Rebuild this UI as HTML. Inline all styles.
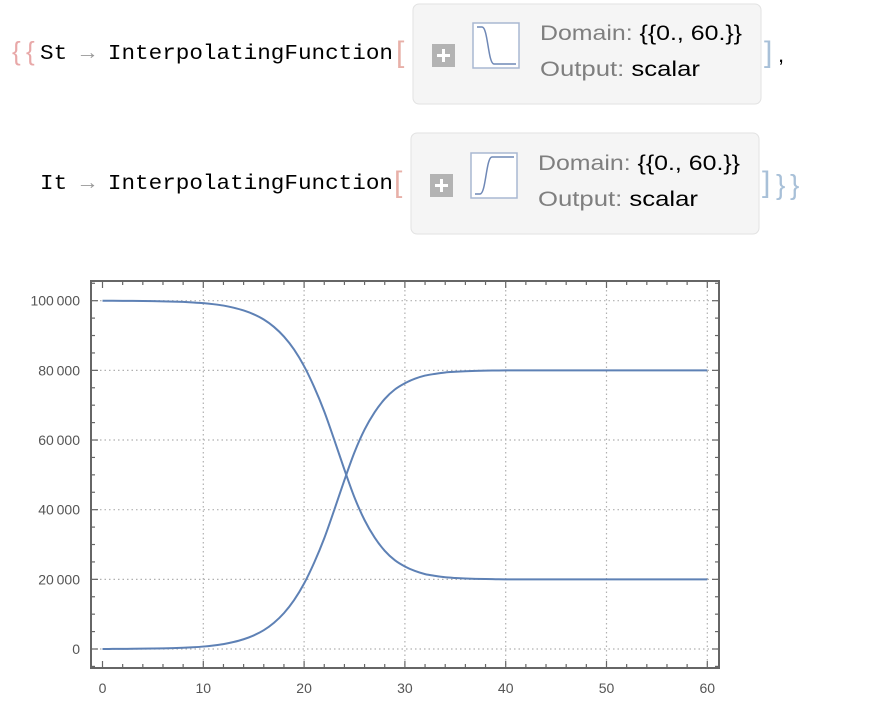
<!DOCTYPE html>
<html><head><meta charset="utf-8"><style>
html,body{margin:0;padding:0;background:#fff;}
svg{display:block;}
</style></head><body>
<svg id="root" width="893" height="706" viewBox="0 0 893 706" xmlns="http://www.w3.org/2000/svg">
 <g font-family="Liberation Mono, monospace" font-size="21" fill="#000">
  <text x="12" y="60" fill="#e8a8a8" font-family="Liberation Sans, sans-serif" font-size="26">{</text>
  <text x="26" y="60" fill="#e8a8a8" font-family="Liberation Sans, sans-serif" font-size="26">{</text>
  <text x="40" y="59" textLength="353" lengthAdjust="spacingAndGlyphs">St <tspan fill="#999">→</tspan> InterpolatingFunction</text>
  <text x="396" y="62" fill="#e8b0a8" font-family="Liberation Sans, sans-serif" font-size="30" font-weight="100">[</text>
  <rect x="413" y="4" width="348" height="100" rx="6" fill="#f5f5f5" stroke="#e2e2e2"/>
  <rect x="432" y="44" width="23" height="23" fill="#b3b3b3"/>
  <path d="M437 55.5h13M443.5 49v13" stroke="#fff" stroke-width="3"/>
  <rect x="473" y="23" width="46" height="45" fill="#fff" stroke="#a9b8d2" stroke-width="1.5"/>
  <path d="M477 27h5c6 0 6 37 12 37h22" fill="none" stroke="#6f88b6" stroke-width="1.5"/>
  <text x="540" y="40" font-family="Liberation Sans, sans-serif" font-size="21" fill="#7f7f7f" textLength="202" lengthAdjust="spacingAndGlyphs">Domain: <tspan fill="#000">{{0., 60.}}</tspan></text>
  <text x="540" y="76" font-family="Liberation Sans, sans-serif" font-size="21" fill="#7f7f7f" textLength="160" lengthAdjust="spacingAndGlyphs">Output: <tspan fill="#000">scalar</tspan></text>
  <text x="764" y="62" fill="#a8c0d8" font-family="Liberation Sans, sans-serif" font-size="30">]</text>
  <text x="778" y="62" font-family="Liberation Sans, sans-serif" font-size="22">,</text>
 </g>
 <g font-family="Liberation Mono, monospace" font-size="21" fill="#000">
  <text x="40" y="189" textLength="353" lengthAdjust="spacingAndGlyphs">It <tspan fill="#999">→</tspan> InterpolatingFunction</text>
  <text x="394" y="192" fill="#e8b0a8" font-family="Liberation Sans, sans-serif" font-size="30">[</text>
  <rect x="411" y="133" width="348" height="101" rx="6" fill="#f5f5f5" stroke="#e2e2e2"/>
  <rect x="430" y="174" width="23" height="23" fill="#b3b3b3"/>
  <path d="M435 185.5h13M441.5 179v13" stroke="#fff" stroke-width="3"/>
  <rect x="471" y="153" width="46" height="45" fill="#fff" stroke="#a9b8d2" stroke-width="1.5"/>
  <path d="M475 194h5c6 0 6 -37 12 -37h22" fill="none" stroke="#6f88b6" stroke-width="1.5"/>
  <text x="538" y="170" font-family="Liberation Sans, sans-serif" font-size="21" fill="#7f7f7f" textLength="202" lengthAdjust="spacingAndGlyphs">Domain: <tspan fill="#000">{{0., 60.}}</tspan></text>
  <text x="538" y="206" font-family="Liberation Sans, sans-serif" font-size="21" fill="#7f7f7f" textLength="160" lengthAdjust="spacingAndGlyphs">Output: <tspan fill="#000">scalar</tspan></text>
  <text x="762" y="192" fill="#a8c0d8" font-family="Liberation Sans, sans-serif" font-size="30">]</text>
  <text x="776" y="194" fill="#a8c0d8" font-family="Liberation Sans, sans-serif" font-size="28">}</text>
  <text x="790" y="194" fill="#a8c0d8" font-family="Liberation Sans, sans-serif" font-size="28">}</text>
 </g>
 <g id="chart"></g>
</svg>
<script>
const times = [0,1,2,3,4,5,6,7,8,9,10,11,12,13,14,15,16,17,18,19,20,21,22,23,24,25,26,27,28,29,30,31,32,33,34,35,36,37,38,39,40,42,44,46,48,50,52,54,56,58,60];
const itValues = [0,20,40,60,90,130,180,250,350,500,700,1000,1400,2000,2800,3900,5400,7500,10300,14000,18800,24800,31800,40000,48500,56500,63000,68000,71800,74500,76300,77600,78500,79000,79400,79600,79750,79850,79920,79960,80000,80000,80000,80000,80000,80000,80000,80000,80000,80000,80000];
const stValues = [100000,99980,99960,99940,99910,99870,99820,99750,99650,99500,99300,99000,98600,98000,97200,96100,94600,92500,89700,86000,81200,75200,68200,60000,51500,43500,37000,32000,28200,25500,23700,22400,21500,21000,20600,20400,20250,20150,20080,20040,20000,20000,20000,20000,20000,20000,20000,20000,20000,20000,20000];
const xTicks = [0,10,20,30,40,50,60];
const yTicks = [0,20000,40000,60000,80000,100000];
const yTickLabels = ["0","20\u2009000","40\u2009000","60\u2009000","80\u2009000","100\u2009000"];

const NS = "http://www.w3.org/2000/svg";
const g = document.getElementById('chart');
const L = 91, R = 719, T = 281, B = 668;
const xs = t => 102.5 + t * 10.08;
const ys = v => 649 - v * 0.003483;
function mk(tag, attrs, parent) {
  const e = document.createElementNS(NS, tag);
  for (const k in attrs) e.setAttribute(k, attrs[k]);
  (parent || g).appendChild(e);
  return e;
}
xTicks.forEach(t => {
  if (t === 0) return;
  const l = mk('line', {x1: xs(t), x2: xs(t), y1: T, y2: B, stroke: '#b0b0b0', 'stroke-dasharray': '1.5 3', 'stroke-width': 1.2});
  
  
});
yTicks.forEach(v => {
  const l = mk('line', {x1: L, x2: R, y1: ys(v), y2: ys(v), stroke: '#b0b0b0', 'stroke-dasharray': '1.5 3', 'stroke-width': 1.2});
  
  
});
for (let t = 0; t <= 60; t += 2) {
  const len = t % 10 === 0 ? 7 : 4;
  const a = mk('line', {x1: xs(t), x2: xs(t), y1: B, y2: B - len, stroke: '#666', 'stroke-width': 1.2});
  
  
  const b = mk('line', {x1: xs(t), x2: xs(t), y1: T, y2: T + len, stroke: '#666', 'stroke-width': 1.2});
  
  
}
for (let v = -5000; v <= 105000; v += 5000) {
  const len = v % 20000 === 0 ? 7 : 4;
  const a = mk('line', {x1: L, x2: L + len, y1: ys(v), y2: ys(v), stroke: '#666', 'stroke-width': 1.2});
  
  
  const b = mk('line', {x1: R, x2: R - len, y1: ys(v), y2: ys(v), stroke: '#666', 'stroke-width': 1.2});
  
  
}
const fr = mk('rect', {x: L, y: T, width: R - L, height: B - T, fill: 'none', stroke: '#666', 'stroke-width': 2});


xTicks.forEach(t => {
  const tx = mk('text', {x: xs(t), y: 693, 'text-anchor': 'middle', 'font-family': 'Liberation Sans, sans-serif', 'font-size': 14, fill: '#555'});
  tx.textContent = String(t);
  
  
});
yTicks.forEach((v, i) => {
  const tx = mk('text', {x: 80, y: ys(v) + 5, 'text-anchor': 'end', 'font-family': 'Liberation Sans, sans-serif', 'font-size': 14, fill: '#555'});
  tx.textContent = yTickLabels[i];
  
  
});
function pathFrom(vals) {
  const p = times.map((t, i) => [xs(t), ys(vals[i])]);
  let d = 'M' + p[0][0] + ' ' + p[0][1];
  for (let i = 0; i < p.length - 1; i++) {
    const p0 = p[i - 1] || p[i], p1 = p[i], p2 = p[i + 1], p3 = p[i + 2] || p2;
    const c1 = [p1[0] + (p2[0] - p0[0]) / 6, p1[1] + (p2[1] - p0[1]) / 6];
    const c2 = [p2[0] - (p3[0] - p1[0]) / 6, p2[1] - (p3[1] - p1[1]) / 6];
    d += ` C${c1[0]} ${c1[1]} ${c2[0]} ${c2[1]} ${p2[0]} ${p2[1]}`;
  }
  return d;
}
const sLine = mk('path', {d: pathFrom(stValues), fill: 'none', stroke: '#5e81b5', 'stroke-width': 2});


const iLine = mk('path', {d: pathFrom(itValues), fill: 'none', stroke: '#5e81b5', 'stroke-width': 2});


</script>
</body></html>
